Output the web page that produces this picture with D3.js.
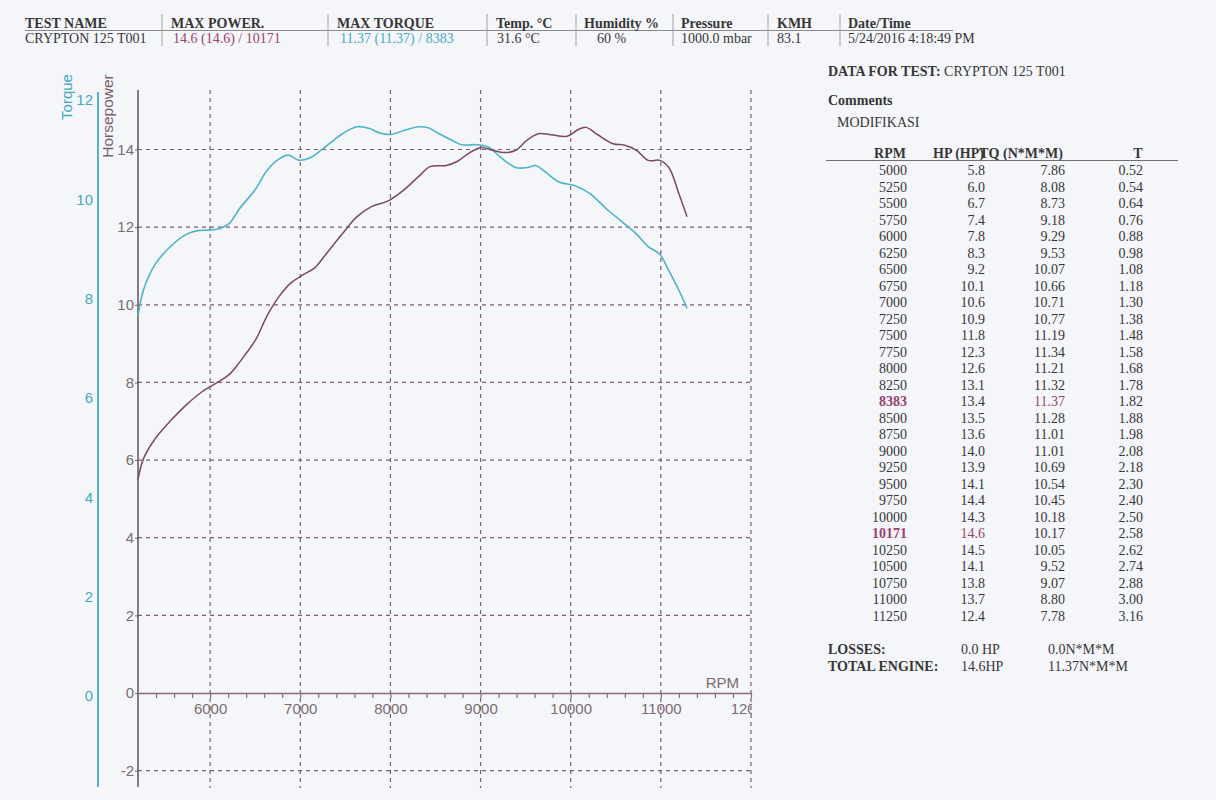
<!DOCTYPE html>
<html>
<head>
<meta charset="utf-8">
<script src="https://cdn.jsdelivr.net/npm/d3@7"></script>
<style>
  body { margin: 0; background: #f5f6fa; }
  svg { display: block; }
</style>
</head>
<body>
<svg width="1216" height="800"></svg>
<script>
// header strip
var headLabels = ["TEST NAME", "MAX POWER.", "MAX TORQUE", "Temp. °C", "Humidity %", "Pressure", "KMH", "Date/Time"];
var headValues = ["CRYPTON 125 T001", "14.6 (14.6) / 10171", "11.37 (11.37) / 8383", "31.6 °C", "60 %", "1000.0 mbar", "83.1", "5/24/2016 4:18:49 PM"];

// traced dyno curves
var hpRpm = [5200, 5260, 5390, 5560, 5730, 5910, 6080, 6210, 6330, 6510, 6630, 6770, 6900, 7020, 7160,
  7280, 7460, 7630, 7800, 7970, 8140, 8320, 8440, 8620, 8740, 8880, 9010, 9130, 9270, 9390,
  9520, 9650, 9780, 9960, 10080, 10170, 10300, 10470, 10600, 10730, 10860, 10990, 11090, 11200, 11290];
var hpVals = [5.50, 6.03, 6.55, 7.01, 7.41, 7.76, 8.00, 8.20, 8.53, 9.12, 9.71, 10.23, 10.57, 10.76, 10.95,
  11.29, 11.81, 12.27, 12.54, 12.67, 12.94, 13.32, 13.56, 13.59, 13.69, 13.92, 14.05, 13.98, 13.92, 13.98,
  14.25, 14.41, 14.38, 14.34, 14.51, 14.57, 14.38, 14.15, 14.11, 13.98, 13.72, 13.72, 13.53, 12.86, 12.27];
var tqRpm = [5200, 5260, 5390, 5560, 5730, 5860, 5990, 6120, 6210, 6330, 6510, 6630, 6770, 6870, 6980,
  7090, 7240, 7460, 7630, 7760, 7890, 8020, 8140, 8320, 8420, 8530, 8660, 8790, 8960, 9090,
  9220, 9390, 9520, 9610, 9700, 9870, 10040, 10210, 10390, 10560, 10730, 10860, 10990, 11070, 11200, 11290];
var tqVals = [7.65, 8.17, 8.69, 9.05, 9.29, 9.37, 9.38, 9.42, 9.51, 9.82, 10.22, 10.58, 10.82, 10.89, 10.79,
  10.82, 11.00, 11.31, 11.46, 11.43, 11.33, 11.31, 11.38, 11.46, 11.44, 11.33, 11.21, 11.10, 11.10, 11.05,
  10.85, 10.64, 10.64, 10.68, 10.58, 10.35, 10.28, 10.12, 9.82, 9.56, 9.30, 9.05, 8.89, 8.63, 8.17, 7.81];

// axis ticks
var rpmLabels = [6000, 7000, 8000, 9000, 10000, 11000, 12000];
var rpmMinor = d3.range(5400, 12001, 200);
var hpTicks = [-2, 0, 2, 4, 6, 8, 10, 12, 14];
var hpGrid = [-2, 2, 4, 6, 8, 10, 12, 14];
var tqTicks = [0, 2, 4, 6, 8, 10, 12];

// data table on the right
var tableRpm = [5000, 5250, 5500, 5750, 6000, 6250, 6500, 6750, 7000, 7250, 7500, 7750, 8000, 8250, 8383,
  8500, 8750, 9000, 9250, 9500, 9750, 10000, 10171, 10250, 10500, 10750, 11000, 11250];
var tableHp = [5.8, 6.0, 6.7, 7.4, 7.8, 8.3, 9.2, 10.1, 10.6, 10.9, 11.8, 12.3, 12.6, 13.1, 13.4,
  13.5, 13.6, 14.0, 13.9, 14.1, 14.4, 14.3, 14.6, 14.5, 14.1, 13.8, 13.7, 12.4];
var tableTq = [7.86, 8.08, 8.73, 9.18, 9.29, 9.53, 10.07, 10.66, 10.71, 10.77, 11.19, 11.34, 11.21, 11.32, 11.37,
  11.28, 11.01, 11.01, 10.69, 10.54, 10.45, 10.18, 10.17, 10.05, 9.52, 9.07, 8.80, 7.78];
var tableT = [0.52, 0.54, 0.64, 0.76, 0.88, 0.98, 1.08, 1.18, 1.30, 1.38, 1.48, 1.58, 1.68, 1.78, 1.82,
  1.88, 1.98, 2.08, 2.18, 2.30, 2.40, 2.50, 2.58, 2.62, 2.74, 2.88, 3.00, 3.16];

var serif = "'Liberation Serif','Times New Roman',serif";
var sans = "'Liberation Sans',Arial,sans-serif";
var ink = "#363636", mauve = "#9b3f6e", teal = "#45a9c3", grey = "#7a6c70";
var plain = function(d) { return String(d); };

var svg = d3.select("svg");
svg.append("rect").attr("width", 1216).attr("height", 800).attr("fill", "#f5f6fa");

//---- header strip
var headX = [25, 171, 337, 496, 584, 681, 777, 848];
var valX = [25, 173, 340, 497, 597, 681, 777, 848];
var sepX = [162, 328, 487, 576, 673, 768, 840];
var head = svg.append("g").attr("font-family", serif).attr("font-size", 14);

head.append("line").attr("x1", 25).attr("x2", 953).attr("y1", 30.5).attr("y2", 30.5)
  .attr("stroke", "#8a8a8a").attr("stroke-width", 1);
head.selectAll("line.sep").data(sepX).enter().append("line")
  .attr("x1", function(d) { return d; }).attr("x2", function(d) { return d; })
  .attr("y1", 14).attr("y2", 46).attr("stroke", "#a0a0a0").attr("stroke-width", 1);

head.selectAll("text.lab").data(headLabels).enter().append("text")
  .attr("x", function(d, i) { return headX[i]; }).attr("y", 28)
  .attr("font-weight", "bold").attr("fill", ink).text(function(d) { return d; });
head.selectAll("text.val").data(headValues).enter().append("text")
  .attr("x", function(d, i) { return valX[i]; }).attr("y", 43)
  .attr("fill", function(d, i) { return i == 1 ? mauve : (i == 2 ? teal : ink); })
  .text(function(d) { return d; });

//---- chart
var x = d3.scaleLinear().domain([5200, 12000]).range([138, 751]);
var yHp = d3.scaleLinear().domain([0, 14]).range([693, 149.5]);
var yTq = d3.scaleLinear().domain([0, 12]).range([696, 100]);

var grid = svg.append("g").attr("stroke", "#7d5c6c").attr("stroke-width", 1.2).attr("stroke-dasharray", "4,4");
grid.selectAll("line.v").data(rpmLabels).enter().append("line")
  .attr("x1", x).attr("x2", x).attr("y1", 90).attr("y2", 788);
grid.selectAll("line.h").data(hpGrid).enter().append("line")
  .attr("x1", x(5200)).attr("x2", x(12000))
  .attr("y1", yHp).attr("y2", yHp);

// torque axis
svg.append("line").attr("x1", 98).attr("x2", 98).attr("y1", 92).attr("y2", 787)
  .attr("stroke", "#58b2c8").attr("stroke-width", 2);
var tqAxis = svg.append("g").attr("transform", "translate(98,0)")
  .call(d3.axisLeft(yTq).tickValues(tqTicks).tickSize(0).tickPadding(5).tickFormat(plain));
tqAxis.select(".domain").remove();
tqAxis.selectAll("text").attr("font-family", sans).attr("font-size", 15).attr("fill", teal);

// hp axis
svg.append("line").attr("x1", 138).attr("x2", 138).attr("y1", 90).attr("y2", 787)
  .attr("stroke", "#5c5558").attr("stroke-width", 1.5);
var hpAxis = svg.append("g").attr("transform", "translate(138,0)")
  .call(d3.axisLeft(yHp).tickValues(hpTicks).tickSize(3).tickPadding(1).tickFormat(plain));
hpAxis.select(".domain").remove();
hpAxis.selectAll("line").attr("stroke", "#7d5c6c");
hpAxis.selectAll("text").attr("font-family", sans).attr("font-size", 15).attr("fill", grey);

// rpm axis
var rpmAxis = svg.append("g").attr("transform", "translate(0," + yHp(0) + ")")
  .call(d3.axisBottom(x).tickValues(rpmMinor).tickSize(5).tickSizeOuter(0).tickFormat(""));
rpmAxis.select(".domain").attr("stroke", "#8c6878").attr("stroke-width", 1.6);
rpmAxis.selectAll("line").attr("stroke", "#8c6878").attr("stroke-width", 1.2);

svg.append("clipPath").attr("id", "rpmclip").append("rect")
  .attr("x", 0).attr("y", 0).attr("width", 752).attr("height", 800);
var rpmText = svg.append("g").attr("clip-path", "url(#rpmclip)")
  .append("g").attr("transform", "translate(0," + yHp(0) + ")")
  .call(d3.axisBottom(x).tickValues(rpmLabels).tickSize(0).tickPadding(10).tickFormat(plain));
rpmText.select(".domain").remove();
rpmText.selectAll("text").attr("font-family", sans).attr("font-size", 15).attr("fill", grey);

svg.append("text").attr("x", 739).attr("y", 688).attr("text-anchor", "end")
  .attr("font-family", sans).attr("font-size", 15).attr("fill", grey).text("RPM");

// axis titles
svg.append("text").attr("transform", "translate(72,97) rotate(-90)").attr("text-anchor", "middle")
  .attr("font-family", sans).attr("font-size", 15).attr("fill", teal).text("Torque");
svg.append("text").attr("transform", "translate(113,116) rotate(-90)").attr("text-anchor", "middle")
  .attr("font-family", sans).attr("font-size", 15.5).attr("fill", "#7a5f6a").text("Horsepower");

// curves
var hpLine = d3.line()
  .x(function(d, i) { return x(hpRpm[i]); })
  .y(function(d) { return yHp(d); })
  .curve(d3.curveCatmullRom);
var tqLine = d3.line()
  .x(function(d, i) { return x(tqRpm[i]); })
  .y(function(d) { return yTq(d); })
  .curve(d3.curveCatmullRom);

svg.append("path").datum(tqVals).attr("d", tqLine)
  .attr("fill", "none").attr("stroke", "#4cb3c9").attr("stroke-width", 1.6);
svg.append("path").datum(hpVals).attr("d", hpLine)
  .attr("fill", "none").attr("stroke", "#7b4a5f").attr("stroke-width", 1.5);

//---- data panel
var panel = svg.append("g").attr("font-family", serif).attr("font-size", 14).attr("fill", ink);

var dt = panel.append("text").attr("x", 828).attr("y", 76);
dt.append("tspan").attr("font-weight", "bold").text("DATA FOR TEST:");
dt.append("tspan").text(" CRYPTON 125 T001");
panel.append("text").attr("x", 828).attr("y", 105).attr("font-weight", "bold").text("Comments");
panel.append("text").attr("x", 837).attr("y", 127).text("MODIFIKASI");

panel.append("text").attr("x", 906).attr("y", 158).attr("text-anchor", "end").attr("font-weight", "bold").text("RPM");
panel.append("text").attr("x", 933).attr("y", 158).attr("font-weight", "bold").text("HP (HP)");
// the printout overlaps the two headers; TQ starts over the ")" of HP (HP)
var probe = panel.append("text").attr("font-weight", "bold").text("HP (HP");
var hpW = probe.node().getComputedTextLength();
probe.remove();
panel.append("text").attr("x", 933 + hpW).attr("y", 158).attr("font-weight", "bold").text("TQ (N*M*M)");
panel.append("text").attr("x", 1138).attr("y", 158).attr("text-anchor", "middle").attr("font-weight", "bold").text("T");
panel.append("line").attr("x1", 826).attr("x2", 1178).attr("y1", 160.5).attr("y2", 160.5)
  .attr("stroke", "#707070").attr("stroke-width", 1);

var peakTq = d3.maxIndex(tableTq), peakHp = d3.maxIndex(tableHp);
var rows = panel.selectAll("g.row").data(tableRpm).enter().append("g")
  .attr("transform", function(d, i) { return "translate(0," + (175 + 16.5 * i) + ")"; });
rows.append("text").attr("x", 907).attr("text-anchor", "end")
  .attr("fill", function(d, i) { return (i == peakTq || i == peakHp) ? mauve : ink; })
  .attr("font-weight", function(d, i) { return (i == peakTq || i == peakHp) ? "bold" : "normal"; })
  .text(function(d) { return d; });
rows.append("text").attr("x", 985).attr("text-anchor", "end")
  .attr("fill", function(d, i) { return i == peakHp ? mauve : ink; })
  .text(function(d, i) { return tableHp[i].toFixed(1); });
rows.append("text").attr("x", 1065).attr("text-anchor", "end")
  .attr("fill", function(d, i) { return i == peakTq ? mauve : ink; })
  .text(function(d, i) { return tableTq[i].toFixed(2); });
rows.append("text").attr("x", 1143).attr("text-anchor", "end")
  .text(function(d, i) { return tableT[i].toFixed(2); });

panel.append("text").attr("x", 828).attr("y", 654).attr("font-weight", "bold").text("LOSSES:");
panel.append("text").attr("x", 961).attr("y", 654).text("0.0 HP");
panel.append("text").attr("x", 1048).attr("y", 654).text("0.0N*M*M");
panel.append("text").attr("x", 828).attr("y", 671).attr("font-weight", "bold").text("TOTAL ENGINE:");
panel.append("text").attr("x", 961).attr("y", 671).text(d3.max(tableHp).toFixed(1) + "HP");
panel.append("text").attr("x", 1048).attr("y", 671).text(d3.max(tableTq).toFixed(2) + "N*M*M");
</script>
</body>
</html>
